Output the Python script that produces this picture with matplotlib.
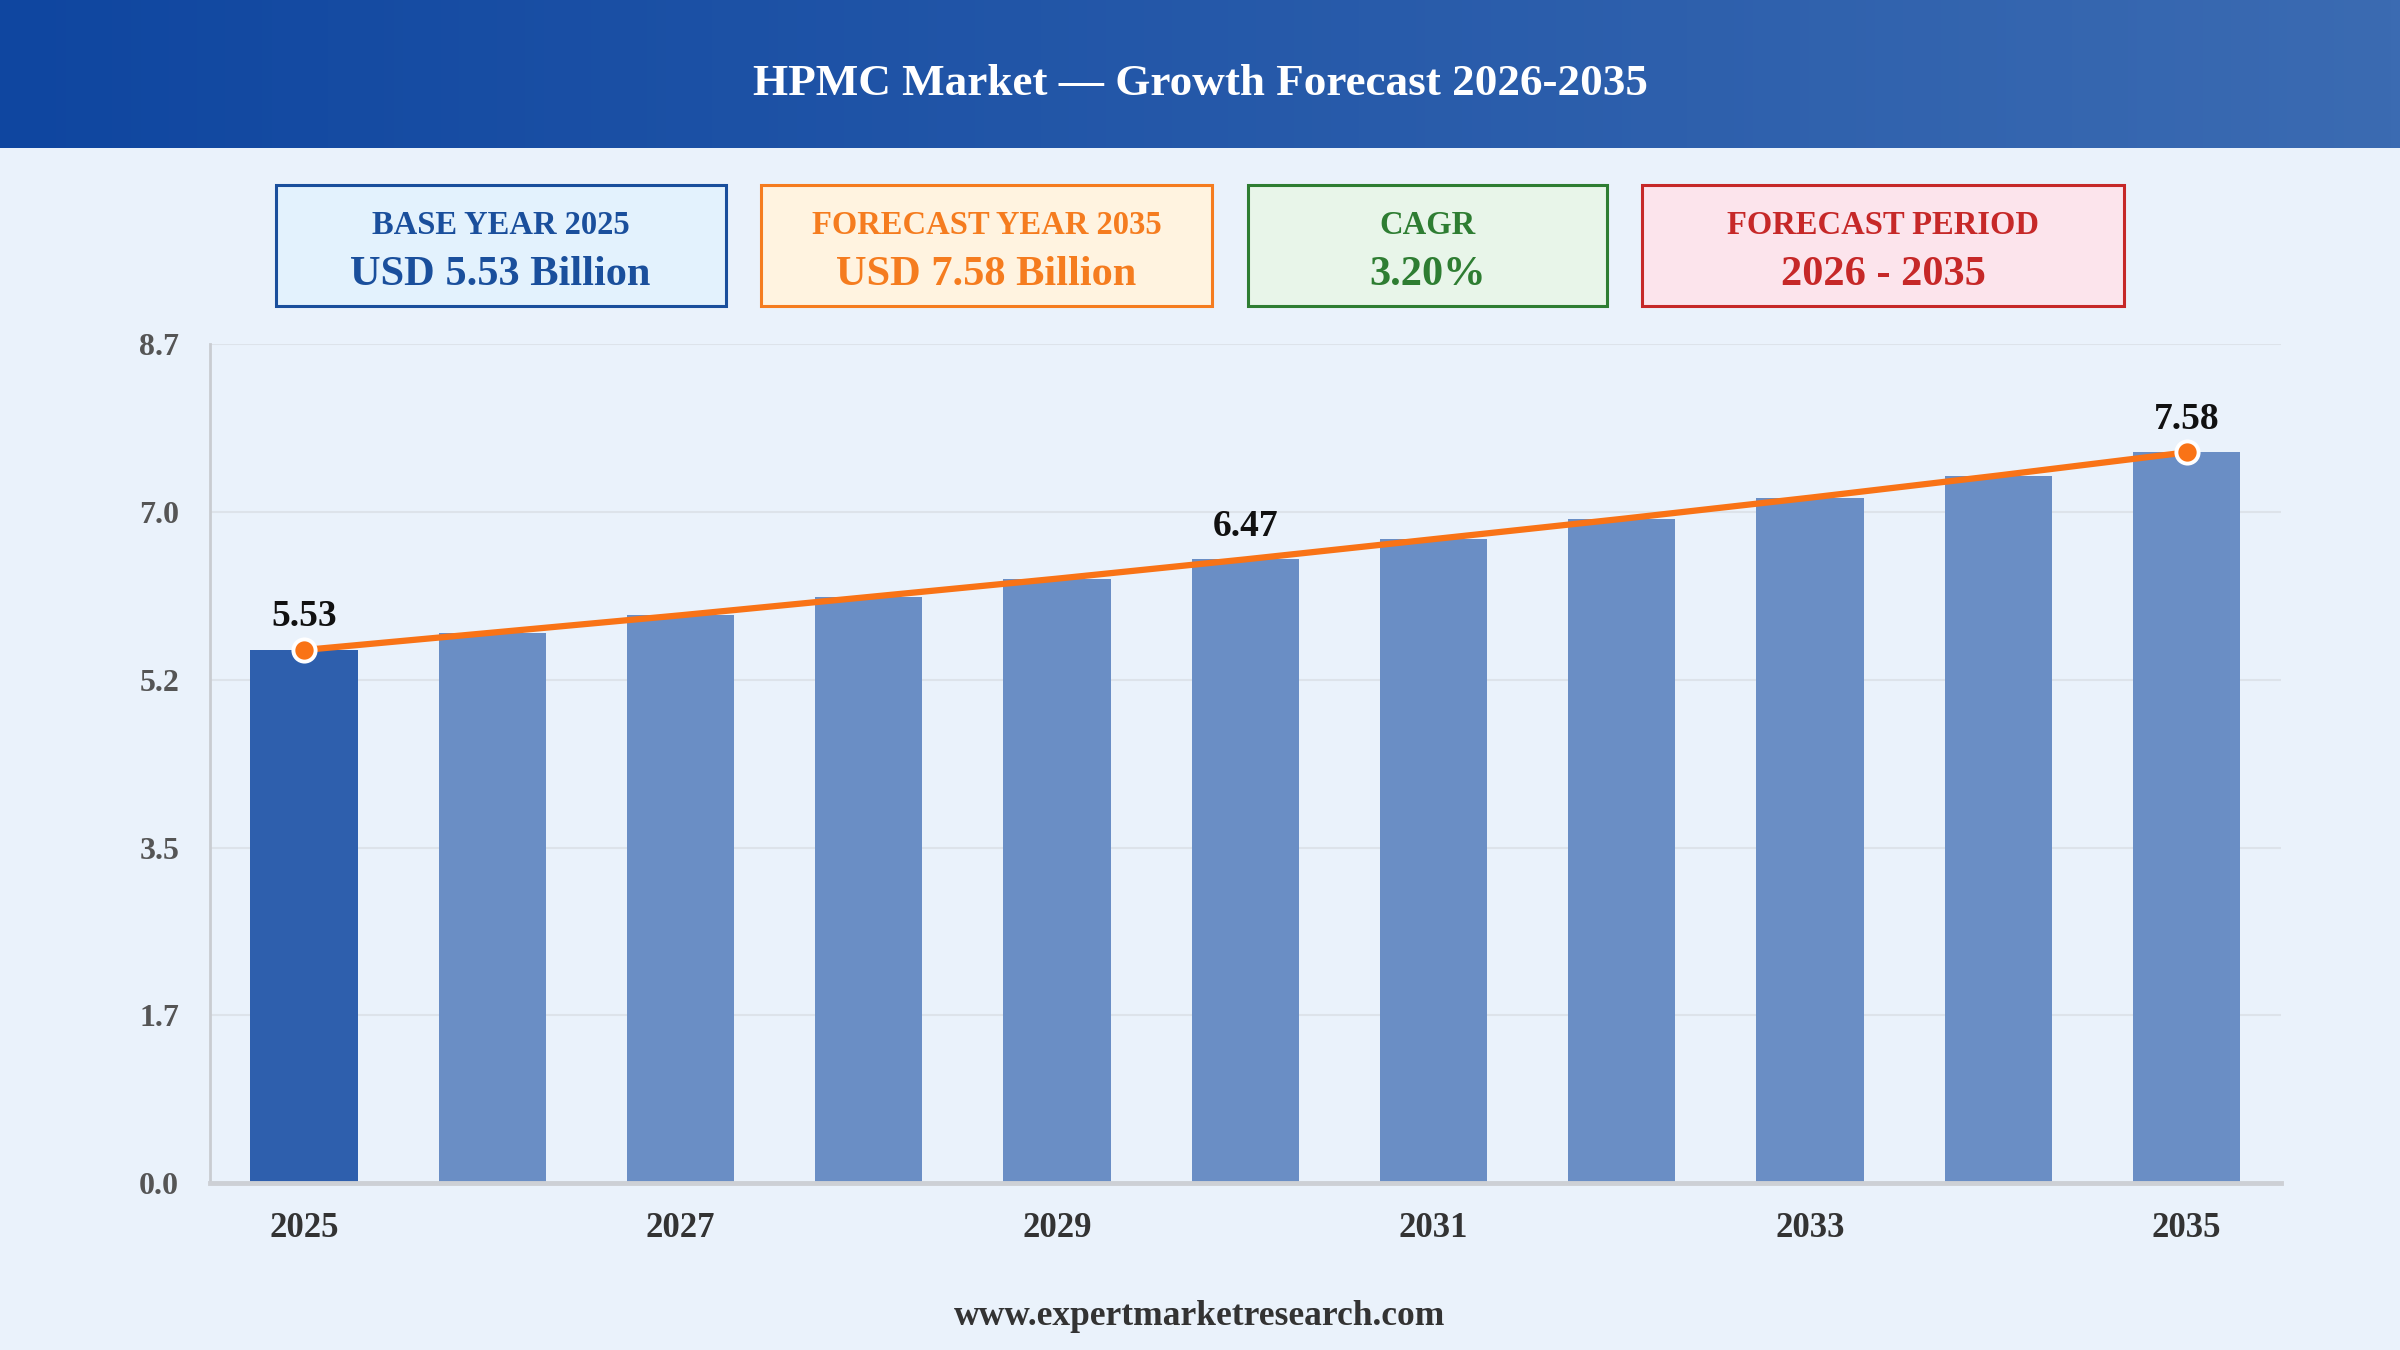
import matplotlib
matplotlib.use("Agg")
import matplotlib.pyplot as plt
import numpy as np
from matplotlib.colors import LinearSegmentedColormap
from matplotlib.patches import Rectangle

plt.rcParams["font.family"] = ["Liberation Serif", "DejaVu Serif"]
plt.rcParams["font.weight"] = "bold"

years = ["2025", "2026", "2027", "2028", "2029", "2030", "2031", "2032", "2033", "2034", "2035"]
market_size = [5.53, 5.71, 5.89, 6.08, 6.27, 6.47, 6.68, 6.89, 7.11, 7.34, 7.58]
labelled_years = ["2025", "2030", "2035"]
marked_years = ["2025", "2035"]
y_max = 8.7

title = "HPMC Market \u2014 Growth Forecast 2026-2035"
footer = "www.expertmarketresearch.com"
cards = [
    ("BASE YEAR 2025", "USD 5.53 Billion", "#1a4f9c", "#e3f2fd"),
    ("FORECAST YEAR 2035", "USD 7.58 Billion", "#f57c1f", "#fff3e0"),
    ("CAGR", "3.20%", "#2e7d32", "#e8f5e9"),
    ("FORECAST PERIOD", "2026 - 2035", "#c62828", "#fce4ec"),
]
card_x = [(0.1148, 0.3023), (0.3170, 0.5051), (0.5198, 0.6696), (0.6843, 0.8852)]

BG = "#eaf2fb"
BAR_FIRST = "#2e5fad"
BAR_REST = "#6a8ec5"
LINE = "#f97316"

fig = plt.figure(figsize=(24, 13.5), dpi=100, facecolor=BG)

# header band with horizontal gradient
head = fig.add_axes([0, 0.89, 1, 0.11])
cmap = LinearSegmentedColormap.from_list("head", ["#0f46a0", "#3b6bb2"])
head.imshow(np.linspace(0, 1, 256).reshape(1, -1), aspect="auto", cmap=cmap, extent=[0, 1, 0, 1])
head.set_axis_off()
fig.text(0.5, 0.938, title, ha="center", va="center", color="white", fontsize=32.5, fontweight="bold")

# summary cards
for (label, value, edge, fill), (x0, x1) in zip(cards, card_x):
    fig.patches.append(Rectangle((x0, 0.7732), x1 - x0, 0.0896, transform=fig.transFigure,
                                 facecolor=fill, edgecolor=edge, linewidth=2.2))
    cx = (x0 + x1) / 2
    fig.text(cx, 0.8330, label, ha="center", va="center", color=edge, fontsize=23.5, fontweight="bold")
    fig.text(cx, 0.7960, value, ha="center", va="center", color=edge, fontsize=30.5, fontweight="bold")

# main chart
ax = fig.add_axes([0.0874, 0.1236, 0.8629, 0.6213])
ax.set_facecolor(BG)
x = np.arange(len(years))
colors = [BAR_FIRST] + [BAR_REST] * (len(years) - 1)
ax.bar(x, market_size, width=0.57, color=colors, zorder=2)
ax.plot(x, market_size, color=LINE, linewidth=4.5, zorder=3, solid_capstyle="round")
for yr in marked_years:
    i = years.index(yr)
    ax.plot(x[i], market_size[i], "o", markersize=16, markerfacecolor=LINE,
            markeredgecolor="white", markeredgewidth=2.8, zorder=4)
for yr in labelled_years:
    i = years.index(yr)
    ax.annotate(f"{market_size[i]:.2f}", (x[i], market_size[i]), xytext=(0, 24),
                textcoords="offset points", ha="center", va="center",
                fontsize=27, fontweight="bold", color="#111111", zorder=5)

ax.set_xlim(-0.5, len(years) - 0.5)
ax.set_ylim(0, y_max)
yt = np.linspace(0, y_max, 6)
ax.set_yticks(yt)
ax.set_yticklabels([f"{v:.1f}" for v in yt])
ax.set_xticks(x[::2])
ax.set_xticklabels(years[::2])
ax.tick_params(axis="y", length=0, pad=22, labelsize=23, labelcolor="#555555")
ax.tick_params(axis="x", length=0, pad=21, labelsize=25, labelcolor="#333333")
ax.grid(axis="y", color="#dde3ea", linewidth=1.5, zorder=0)
for side in ("top", "right"):
    ax.spines[side].set_visible(False)
ax.spines["left"].set_color("#c9ccd1")
ax.spines["left"].set_linewidth(2)
ax.spines["bottom"].set_color("#cdd0d5")
ax.spines["bottom"].set_linewidth(3.5)
ax.spines["bottom"].set_zorder(3)

fig.text(0.5, 0.025, footer, ha="center", va="center", color="#333333", fontsize=25.5, fontweight="bold")

fig.savefig("out.png", dpi=100, facecolor=BG)
